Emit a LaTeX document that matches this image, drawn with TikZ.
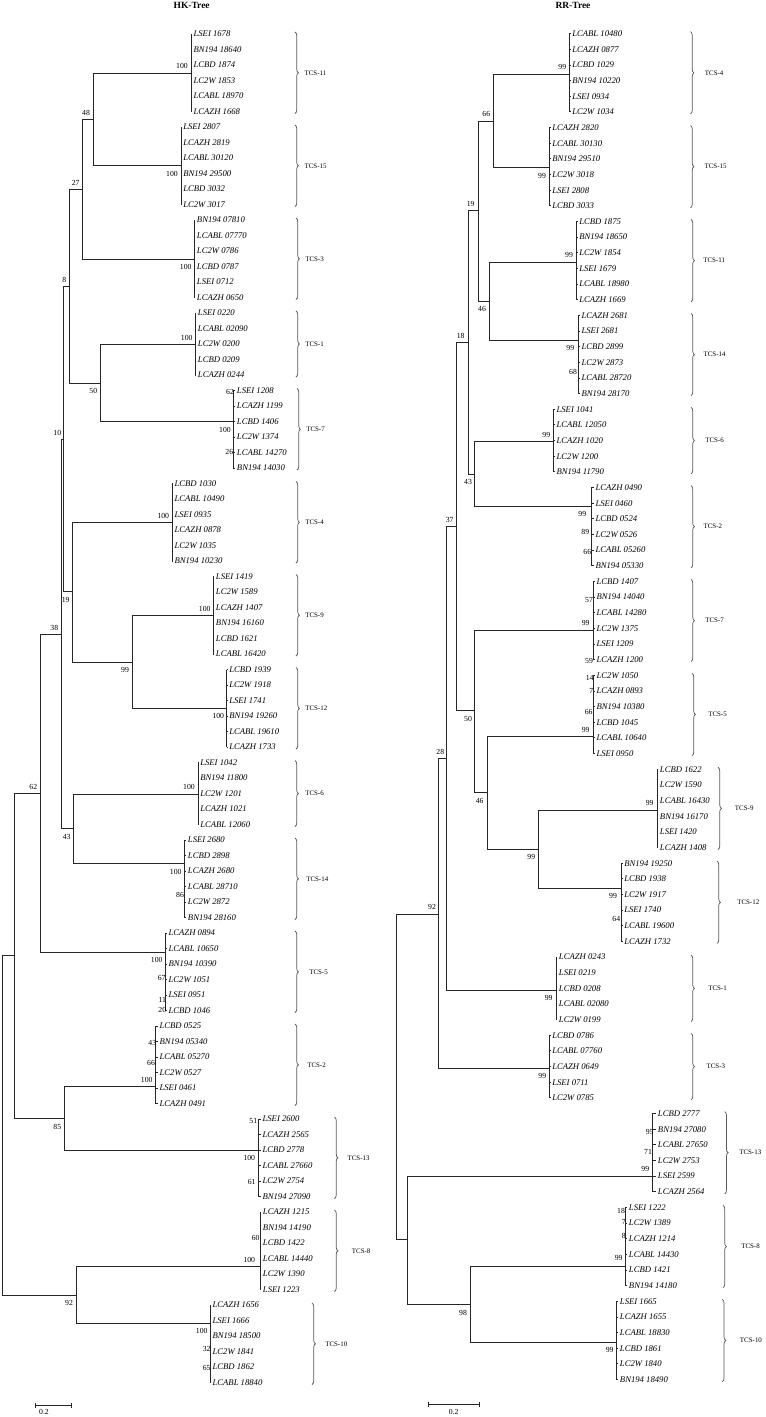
\documentclass[tikz,border=0pt]{standalone}
\usepackage{fontspec}
\setmainfont{Liberation Serif}
\usetikzlibrary{decorations.pathreplacing}
\def\leafy{34}
\def\leafdy{15.5}
\newcommand\clade[7]{%
  \coordinate (#1) at (#2,#3);
  \foreach \t [count=\k from 0] in {#7} {
    \node[leaf] (#1-\k) at (#6, {\leafy+\leafdy*(#4+\k)}) {\t};
    \draw[branch] (#1-\k.west -| #1) -- ([xshift=-1]#1-\k.west);
  }
  \pgfmathtruncatemacro\lastk{#5-1}
  \draw[branch] (#1-0.west -| #1) -- (#1-\lastk.west -| #1);
}
\newcommand\tcsb[6]{%
  \pgfmathsetmacro\bya{\leafy+\leafdy*#3-2}
  \pgfmathsetmacro\byb{\leafy+\leafdy*(#3+#4-1)+2}
  \draw[brc] (#2,\bya) -- (#2,\byb);
  \node[tcs] (#1) at (#5,{(\bya+\byb)/2}) {#6};
}
\begin{document}
\begin{tikzpicture}[x=0.75pt,y=-0.75pt,
  branch/.style={line width=0.7pt, draw=black!85},
  leaf/.style={anchor=west, inner sep=0pt, font=\fontsize{6.5}{7}\selectfont\itshape},
  bs/.style={inner sep=0pt, font=\fontsize{5.8}{6}\selectfont},
  tcs/.style={anchor=west, inner sep=0pt, font=\fontsize{5.2}{6}\selectfont},
  brc/.style={draw=black!65, line width=0.55pt, decorate, decoration={brace, amplitude=2.6pt}},
  ttl/.style={font=\fontsize{7.1}{8}\selectfont\bfseries, inner sep=0pt}
]
\useasboundingbox (0,0) rectangle (766,1417);

% ================= HK-Tree =================
\node[ttl] (titleL) at (191.7,5.3) {HK-Tree};
\def\leafy{34}\def\leafdy{15.5}
\clade{LT11}{191}{73.3}{0}{6}{193.3}{LSEI 1678, BN194 18640, LCBD 1874, LC2W 1853, LCABL 18970, LCAZH 1668}
\clade{LT15}{181}{165.7}{6}{6}{183}{LSEI 2807, LCAZH 2819, LCABL 30120, BN194 29500, LCBD 3032, LC2W 3017}
\clade{LT3}{194.3}{259}{12}{6}{196.7}{BN194 07810, LCABL 07770, LC2W 0786, LCBD 0787, LSEI 0712, LCAZH 0650}
\clade{LT1}{195}{344.3}{18}{5}{197.7}{LSEI 0220, LCABL 02090, LC2W 0200, LCBD 0209, LCAZH 0244}
\clade{LT7}{233.3}{421.7}{23}{6}{236.7}{LSEI 1208, LCAZH 1199, LCBD 1406, LC2W 1374, LCABL 14270, BN194 14030}
\clade{LT4}{172.3}{522.3}{29}{6}{174.3}{LCBD 1030, LCABL 10490, LSEI 0935, LCAZH 0878, LC2W 1035, BN194 10230}
\clade{LT9}{213.3}{615.7}{35}{6}{215.7}{LSEI 1419, LC2W 1589, LCAZH 1407, BN194 16160, LCBD 1621, LCABL 16420}
\clade{LT12}{226.7}{708.3}{41}{6}{229}{LCBD 1939, LC2W 1918, LSEI 1741, BN194 19260, LCABL 19610, LCAZH 1733}
\clade{LT6}{198.3}{794}{47}{5}{200}{LSEI 1042, BN194 11800, LC2W 1201, LCAZH 1021, LCABL 12060}
\clade{LT14}{184.3}{863.3}{52}{6}{187.7}{LSEI 2680, LCBD 2898, LCAZH 2680, LCABL 28710, LC2W 2872, BN194 28160}
\clade{LT5}{165.7}{952.3}{58}{6}{168.3}{LCAZH 0894, LCABL 10650, BN194 10390, LC2W 1051, LSEI 0951, LCBD 1046}
\clade{LT2}{155.7}{1086.7}{64}{6}{159.3}{LCBD 0525, BN194 05340, LCABL 05270, LC2W 0527, LSEI 0461, LCAZH 0491}
\clade{LT13}{258.3}{1150}{70}{6}{262.3}{LSEI 2600, LCAZH 2565, LCBD 2778, LCABL 27660, LC2W 2754, BN194 27090}
\clade{LT8}{260}{1266.7}{76}{6}{262.7}{LCAZH 1215, BN194 14190, LCBD 1422, LCABL 14440, LC2W 1390, LSEI 1223}
\clade{LT10}{210}{1323.3}{82}{6}{212.3}{LCAZH 1656, LSEI 1666, BN194 18500, LC2W 1841, LCBD 1862, LCABL 18840}

\coordinate (L48) at (93.7,119.3);
\coordinate (L27) at (82.3,189.3);
\coordinate (L50) at (100,383.3);
\coordinate (L8) at (69.3,286.7);
\coordinate (L99) at (132.3,662.3);
\coordinate (L19) at (72.3,591.7);
\coordinate (L10) at (63.3,439);
\coordinate (L43) at (73.3,828.3);
\coordinate (L38) at (61.5,634);
\coordinate (L62) at (40.7,793.3);
\coordinate (L85) at (64.3,1118.3);
\coordinate (Lu) at (14.7,955);
\coordinate (L92) at (76.7,1295);
\coordinate (Lroot) at (2.7,1125);

\draw[branch] (L48) |- (LT11);  \draw[branch] (L48) |- (LT15);
\draw[branch] (L27) |- (L48);   \draw[branch] (L27) |- (LT3);
\draw[branch] (L50) |- (LT1);   \draw[branch] (L50) |- (LT7);
\draw[branch] (L8) |- (L27);    \draw[branch] (L8) |- (L50);
\draw[branch] (L99) |- (LT9);   \draw[branch] (L99) |- (LT12);
\draw[branch] (L19) |- (LT4);   \draw[branch] (L19) |- (L99);
\draw[branch] (L10) |- (L8);    \draw[branch] (L10) |- (L19);
\draw[branch] (L43) |- (LT6);   \draw[branch] (L43) |- (LT14);
\draw[branch] (L38) |- (L10);   \draw[branch] (L38) |- (L43);
\draw[branch] (L62) |- (L38);   \draw[branch] (L62) |- (LT5);
\draw[branch] (L85) |- (LT2);   \draw[branch] (L85) |- (LT13);
\draw[branch] (Lu) |- (L62);    \draw[branch] (Lu) |- (L85);
\draw[branch] (L92) |- (LT8);   \draw[branch] (L92) |- (LT10);
\draw[branch] (Lroot) |- (Lu);  \draw[branch] (Lroot) |- (L92);

\foreach \bx/\by/\bv [count=\n] in {182/66/100, 172/173.7/100, 86/113/48, 185.7/266.7/100, 75.7/182.7/27,
  186.7/337.7/100, 64.3/280/8, 93.3/391/50, 230/392.3/62, 225/430/100, 229.3/452.3/26, 57.3/432.7/10,
  163.3/516/100, 204.7/609/100, 125/670/99, 65.7/600/19, 54.3/627.7/38, 218.3/716/100, 33.3/786.7/62,
  189/787.3/100, 66.7/836.7/43, 175.7/871.7/100, 180/895/86, 156.7/960/100, 161.7/978.3/67, 162.3/1000/11,
  162.3/1010/20, 152.3/1043.3/43, 151/1062.7/66, 146.7/1080/100, 57.3/1126.7/85, 253.3/1121/51,
  249.3/1158.3/100, 251.7/1181.7/61, 255.7/1237.7/60, 249.3/1260/100, 69/1303.3/92, 201.7/1331/100,
  206.7/1349/32, 206.7/1368.3/65}
  \node[bs] (LB\n) at (\bx,\by) {\bv};

\tcsb{LC11}{295}{0}{6}{304.3}{TCS-11}
\tcsb{LC15}{295}{6}{6}{304.3}{TCS-15}
\tcsb{LC3}{296}{12}{6}{305}{TCS-3}
\tcsb{LC1}{296}{18}{5}{305}{TCS-1}
\tcsb{LC7}{297}{23}{6}{306}{TCS-7}
\tcsb{LC4}{296}{29}{6}{305}{TCS-4}
\tcsb{LC9}{296}{35}{6}{305}{TCS-9}
\tcsb{LC12}{296}{41}{6}{305}{TCS-12}
\tcsb{LC6}{295}{47}{5}{305}{TCS-6}
\tcsb{LC14}{295}{52}{6}{306}{TCS-14}
\tcsb{LC5}{295}{58}{6}{309}{TCS-5}
\tcsb{LC2}{295}{64}{6}{307}{TCS-2}
\tcsb{LC13}{334.5}{70}{6}{347.3}{TCS-13}
\tcsb{LC8}{334.5}{76}{6}{351.7}{TCS-8}
\tcsb{LC10}{312}{82}{6}{325}{TCS-10}

\coordinate (sbL1) at (35,1405.7);
\coordinate (sbL2) at (71.7,1405.7);
\draw[branch, line width=0.5pt] (sbL1) -- (sbL2);
\draw[branch, line width=0.5pt] ([yshift=2]sbL1) -- ([yshift=-2]sbL1);
\draw[branch, line width=0.5pt] ([yshift=2]sbL2) -- ([yshift=-2]sbL2);
\node[bs] (sbLt) at (44,1412.3) {0.2};

% ================= RR-Tree =================
\node[ttl] (titleR) at (573,5.3) {RR-Tree};
\def\leafy{33.7}\def\leafdy{15.65}
\clade{RT4}{569}{74}{0}{6}{572}{LCABL 10480, LCAZH 0877, LCBD 1029, BN194 10220, LSEI 0934, LC2W 1034}
\clade{RT15}{549}{167.7}{6}{6}{552}{LCAZH 2820, LCABL 30130, BN194 29510, LC2W 3018, LSEI 2808, LCBD 3033}
\clade{RT11}{576.3}{262.3}{12}{6}{579}{LCBD 1875, BN194 18650, LC2W 1854, LSEI 1679, LCABL 18980, LCAZH 1669}
\clade{RT14}{578}{340}{18}{6}{581.3}{LCAZH 2681, LSEI 2681, LCBD 2899, LC2W 2873, LCABL 28720, BN194 28170}
\clade{RT6}{553.7}{441.7}{24}{5}{556.3}{LSEI 1041, LCABL 12050, LCAZH 1020, LC2W 1200, BN194 11790}
\clade{RT2}{591.3}{506.7}{29}{6}{595.3}{LCAZH 0490, LSEI 0460, LCBD 0524, LC2W 0526, LCABL 05260, BN194 05330}
\clade{RT7}{593}{630}{35}{6}{596.3}{LCBD 1407, BN194 14040, LCABL 14280, LC2W 1375, LSEI 1209, LCAZH 1200}
\clade{RT5}{593}{736.7}{41}{6}{596.3}{LC2W 1050, LCAZH 0893, BN194 10380, LCBD 1045, LCABL 10640, LSEI 0950}
\clade{RT9}{657}{810}{47}{6}{659.7}{LCBD 1622, LC2W 1590, LCABL 16430, BN194 16170, LSEI 1420, LCAZH 1408}
\clade{RT12}{621.3}{888.3}{53}{6}{624}{BN194 19250, LCBD 1938, LC2W 1917, LSEI 1740, LCABL 19600, LCAZH 1732}
\clade{RT1}{556.3}{990}{59}{5}{558.7}{LCAZH 0243, LSEI 0219, LCBD 0208, LCABL 02080, LC2W 0199}
\clade{RT3}{549.7}{1068.3}{64}{5}{552}{LCBD 0786, LCABL 07760, LCAZH 0649, LSEI 0711, LC2W 0785}
\clade{RT13}{652.3}{1176}{69}{6}{657.7}{LCBD 2777, BN194 27080, LCABL 27650, LC2W 2753, LSEI 2599, LCAZH 2564}
\clade{RT8}{625.7}{1266}{75}{6}{628.7}{LSEI 1222, LC2W 1389, LCAZH 1214, LCABL 14430, LCBD 1421, BN194 14180}
\clade{RT10}{616.3}{1342.3}{81}{6}{619.7}{LSEI 1665, LCAZH 1655, LCABL 18830, LCBD 1861, LC2W 1840, BN194 18490}

\coordinate (R66) at (493,121);
\coordinate (R46a) at (489.7,301);
\coordinate (R19) at (478.3,210.7);
\coordinate (R43) at (474.7,474.3);
\coordinate (R18) at (468,342.3);
\coordinate (R99) at (538.7,849.3);
\coordinate (R46b) at (487.3,792.7);
\coordinate (R50) at (474.7,710.7);
\coordinate (R37) at (456.3,526.7);
\coordinate (R28) at (446.3,758.3);
\coordinate (R92) at (438,914);
\coordinate (R98) at (470.3,1304);
\coordinate (Ru) at (407.3,1239.3);
\coordinate (Rroot) at (396.3,1076.7);

\draw[branch] (R66) |- (RT4);   \draw[branch] (R66) |- (RT15);
\draw[branch] (R46a) |- (RT11); \draw[branch] (R46a) |- (RT14);
\draw[branch] (R19) |- (R66);   \draw[branch] (R19) |- (R46a);
\draw[branch] (R43) |- (RT6);   \draw[branch] (R43) |- (RT2);
\draw[branch] (R18) |- (R19);   \draw[branch] (R18) |- (R43);
\draw[branch] (R99) |- (RT9);   \draw[branch] (R99) |- (RT12);
\draw[branch] (R46b) |- (RT5);  \draw[branch] (R46b) |- (R99);
\draw[branch] (R50) |- (RT7);   \draw[branch] (R50) |- (R46b);
\draw[branch] (R37) |- (R18);   \draw[branch] (R37) |- (R50);
\draw[branch] (R28) |- (R37);   \draw[branch] (R28) |- (RT1);
\draw[branch] (R92) |- (R28);   \draw[branch] (R92) |- (RT3);
\draw[branch] (R98) |- (RT8);   \draw[branch] (R98) |- (RT10);
\draw[branch] (Ru) |- (RT13);   \draw[branch] (Ru) |- (R98);
\draw[branch] (Rroot) |- (R92); \draw[branch] (Rroot) |- (Ru);

\foreach \bx/\by/\bv [count=\n] in {562.3/66.7/99, 542/175.7/99, 486.3/114.3/66, 569/255/99, 570.3/347.7/99,
  573/371.7/68, 482/309/46, 470.7/204/19, 546.3/435/99, 582.3/514.3/99, 585.3/531.7/89, 587.3/551.7/66,
  468/482.3/43, 460.7/336/18, 585.7/623.3/99, 589/600/57, 589/660.7/59, 449.7/520/37, 589.7/678.3/14,
  591.3/691/7, 588.7/711.7/66, 585.7/730/99, 468/719.3/50, 649.7/803.3/99, 479.7/800.7/46, 531.3/856.7/99,
  613/896/99, 616.3/919.3/64, 440.3/751.7/28, 548.7/998.3/99, 432/907.3/92, 542.3/1076/99,
  649.7/1132.3/95, 648/1151.7/71, 645.3/1169/99, 621/1210.7/18, 623.7/1221.7/7, 623.7/1236/8,
  618.7/1258.3/99, 463/1312.7/98, 609.7/1350/99}
  \node[bs] (RB\n) at (\bx,\by) {\bv};

\tcsb{RC4}{690.5}{0}{6}{704.7}{TCS-4}
\tcsb{RC15}{690.5}{6}{6}{704.3}{TCS-15}
\tcsb{RC11}{691}{12}{6}{703}{TCS-11}
\tcsb{RC14}{691}{18}{6}{703.3}{TCS-14}
\tcsb{RC6}{691}{24}{5}{705}{TCS-6}
\tcsb{RC2}{691}{29}{6}{703.3}{TCS-2}
\tcsb{RC7}{691}{35}{6}{705}{TCS-7}
\tcsb{RC5}{692}{41}{6}{708}{TCS-5}
\tcsb{RC9}{718}{47}{6}{734.7}{TCS-9}
\tcsb{RC12}{717}{53}{6}{737}{TCS-12}
\tcsb{RC1}{691}{59}{5}{708}{TCS-1}
\tcsb{RC3}{691}{64}{5}{706.3}{TCS-3}
\tcsb{RC13}{724.7}{69}{6}{739}{TCS-13}
\tcsb{RC8}{723}{75}{6}{741}{TCS-8}
\tcsb{RC10}{722.3}{81}{6}{739.7}{TCS-10}

\coordinate (sbR1) at (428,1404.3);
\coordinate (sbR2) at (479.7,1404.3);
\draw[branch, line width=0.5pt] (sbR1) -- (sbR2);
\draw[branch, line width=0.5pt] ([yshift=2]sbR1) -- ([yshift=-2]sbR1);
\draw[branch, line width=0.5pt] ([yshift=2]sbR2) -- ([yshift=-2]sbR2);
\node[bs] (sbRt) at (453.7,1411.7) {0.2};
\end{tikzpicture}
\end{document}
